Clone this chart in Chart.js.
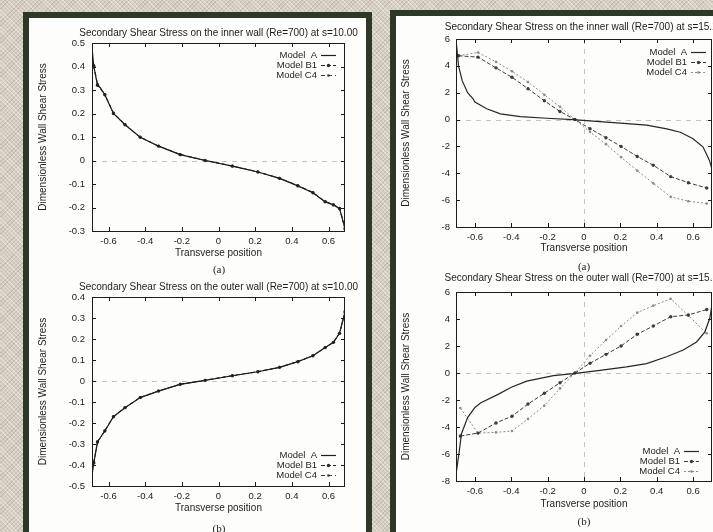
<!DOCTYPE html>
<html>
<head>
<meta charset="utf-8">
<script src="https://cdn.jsdelivr.net/npm/chart.js@4.4.1/dist/chart.umd.min.js"></script>
<style>
  html, body { margin: 0; padding: 0; }
  body {
    width: 713px; height: 532px; overflow: hidden; position: relative;
    background-color: #d5cec1;
    background-image:
      repeating-linear-gradient(45deg, rgba(255,255,255,0.35) 0 1px, transparent 1px 3px),
      repeating-linear-gradient(-45deg, rgba(110,100,80,0.18) 0 1px, transparent 1px 3px);
  }
  .panel { position: absolute; background: #fdfdfb; border: 6px solid #2d3826; }
  canvas { position: absolute; }
  .cap { position: absolute; font: 11px "Liberation Serif", serif; color: #222; transform: translateX(-50%); }
</style>
</head>
<body>
<div class="panel" style="left:23px;top:12px;width:337px;height:600px"></div>
<div class="panel" style="left:390px;top:10px;width:400px;height:600px"></div>

<canvas id="c1" width="340" height="240" style="left:30px;top:20px"></canvas>
<canvas id="c3" width="340" height="240" style="left:30px;top:274px"></canvas>
<canvas id="c2" width="340" height="240" style="left:397px;top:14px"></canvas>
<canvas id="c4" width="340" height="245" style="left:397px;top:266px"></canvas>

<div class="cap" style="left:219px;top:263px">(a)</div>
<div class="cap" style="left:219px;top:522px">(b)</div>
<div class="cap" style="left:584px;top:260px">(a)</div>
<div class="cap" style="left:584px;top:515px">(b)</div>

<script>
const modelNames = ["Model  A", "Model B1", "Model C4"];
const xTickVals = [-0.6, -0.4, -0.2, 0, 0.2, 0.4, 0.6];
const yTicksInner10 = [-0.3, -0.2, -0.1, 0, 0.1, 0.2, 0.3, 0.4, 0.5];
const yTicksOuter10 = [-0.5, -0.4, -0.3, -0.2, -0.1, 0, 0.1, 0.2, 0.3, 0.4];
const yTicks15 = [-8, -6, -4, -2, 0, 2, 4, 6];

// inner wall, s=10.00
const in10AX = [-0.69, -0.68, -0.66, -0.645, -0.62, -0.573, -0.51, -0.427, -0.327, -0.209, -0.073, 0.076, 0.215, 0.333, 0.433, 0.515, 0.582, 0.627, 0.66, 0.69];
const in10AY = [0.48, 0.40, 0.32, 0.31, 0.28, 0.20, 0.152, 0.099, 0.061, 0.025, 0.0, -0.024, -0.049, -0.076, -0.108, -0.137, -0.176, -0.189, -0.204, -0.29];
const in10PtX = [-0.68, -0.66, -0.62, -0.573, -0.51, -0.427, -0.327, -0.209, -0.073, 0.076, 0.215, 0.333, 0.433, 0.515, 0.582, 0.627, 0.66, 0.69];
const in10B1 = [0.40, 0.32, 0.28, 0.20, 0.152, 0.099, 0.061, 0.025, 0.0, -0.024, -0.049, -0.076, -0.108, -0.137, -0.176, -0.189, -0.204, -0.29];
const in10C4 = [0.405, 0.325, 0.282, 0.203, 0.154, 0.10, 0.062, 0.026, 0.001, -0.023, -0.048, -0.075, -0.106, -0.135, -0.174, -0.187, -0.202, -0.285];

// outer wall, s=10.00
const out10AX = [-0.69, -0.68, -0.66, -0.62, -0.573, -0.51, -0.427, -0.327, -0.209, -0.073, 0.076, 0.215, 0.333, 0.433, 0.515, 0.582, 0.627, 0.66, 0.69];
const out10AY = [-0.45, -0.39, -0.29, -0.238, -0.17, -0.127, -0.079, -0.048, -0.016, 0.003, 0.025, 0.044, 0.065, 0.092, 0.12, 0.159, 0.184, 0.227, 0.33];
const out10PtX = [-0.68, -0.66, -0.62, -0.573, -0.51, -0.427, -0.327, -0.209, -0.073, 0.076, 0.215, 0.333, 0.433, 0.515, 0.582, 0.627, 0.66, 0.69];
const out10B1 = [-0.39, -0.29, -0.238, -0.17, -0.127, -0.079, -0.048, -0.016, 0.003, 0.025, 0.044, 0.065, 0.092, 0.12, 0.159, 0.184, 0.227, 0.33];
const out10C4 = [-0.385, -0.288, -0.236, -0.168, -0.126, -0.078, -0.047, -0.015, 0.004, 0.026, 0.045, 0.066, 0.093, 0.121, 0.16, 0.185, 0.225, 0.325];

// inner wall, s=15.20
const in15AX = [-0.703, -0.69, -0.67, -0.64, -0.61, -0.6, -0.535, -0.46, -0.35, -0.205, -0.06, 0.05, 0.2, 0.345, 0.455, 0.53, 0.6, 0.655, 0.69, 0.703];
const in15AY = [5.8, 4.0, 2.9, 2.0, 1.55, 1.3, 0.8, 0.42, 0.22, 0.1, 0.0, -0.12, -0.27, -0.42, -0.69, -0.94, -1.43, -2.05, -3.04, -3.65];
const in15PtX = [-0.69, -0.583, -0.484, -0.396, -0.308, -0.218, -0.132, -0.05, 0.033, 0.121, 0.204, 0.293, 0.381, 0.477, 0.574, 0.675];
const in15B1 = [4.75, 4.65, 3.85, 3.15, 2.3, 1.4, 0.6, 0.0, -0.68, -1.35, -2.0, -2.75, -3.4, -4.25, -4.7, -5.1];
const in15C4 = [4.75, 5.0, 4.3, 3.6, 2.8, 1.85, 0.95, 0.0, -0.92, -1.83, -2.8, -3.8, -4.75, -5.76, -6.08, -6.25];

// outer wall, s=15.20
const out15AX = [-0.703, -0.687, -0.674, -0.64, -0.6, -0.567, -0.475, -0.4, -0.315, -0.168, -0.059, 0.088, 0.234, 0.344, 0.454, 0.546, 0.619, 0.665, 0.692, 0.703];
const out15AY = [-7.4, -5.9, -4.5, -3.3, -2.55, -2.2, -1.6, -1.05, -0.6, -0.2, -0.05, 0.2, 0.45, 0.7, 1.2, 1.7, 2.3, 3.05, 4.05, 5.0];
const out15PtX = [-0.68, -0.583, -0.484, -0.396, -0.308, -0.218, -0.132, -0.05, 0.033, 0.121, 0.204, 0.293, 0.381, 0.477, 0.574, 0.675];
const out15B1 = [-4.67, -4.45, -3.7, -3.2, -2.3, -1.5, -0.72, 0.0, 0.72, 1.38, 2.0, 2.87, 3.48, 4.17, 4.3, 4.7];
const out15C4 = [-2.6, -4.45, -4.4, -4.3, -3.4, -2.42, -1.14, 0.0, 1.28, 2.44, 3.48, 4.47, 4.99, 5.5, 4.25, 2.94];

const ink = "#1c1c1c";
const fam = "'Liberation Sans', Arial, sans-serif";
const tickFont = { family: fam, size: 9.5 };

function fmt(v) { return v === 0 ? "0" : String(+v.toFixed(1)); }
function pairs(xs, ys) { return xs.map((x, i) => ({ x: x, y: ys[i] })); }

// gnuplot-like frame, inward ticks, zero axes, title and legend
const gnuFrame = {
  id: "gnuFrame",
  beforeDatasetsDraw(chart, args, opts) {
    const { ctx, chartArea: a } = chart;
    const x = chart.scales.x, y = chart.scales.y;
    ctx.save();
    ctx.strokeStyle = "#c4c4c4"; ctx.lineWidth = 1; ctx.setLineDash([5, 5]);
    ctx.beginPath();
    const y0 = Math.round(y.getPixelForValue(0)) + 0.5;
    ctx.moveTo(a.left, y0); ctx.lineTo(a.right, y0);
    if (opts.vZero) {
      const x0 = Math.round(x.getPixelForValue(0)) + 0.5;
      ctx.moveTo(x0, a.top); ctx.lineTo(x0, a.bottom);
    }
    ctx.stroke();
    ctx.restore();
  },
  afterDatasetsDraw(chart, args, opts) {
    const { ctx, chartArea: a } = chart;
    const x = chart.scales.x, y = chart.scales.y;
    ctx.save();
    ctx.strokeStyle = ink; ctx.lineWidth = 1;
    ctx.strokeRect(a.left + 0.5, a.top + 0.5, a.right - a.left - 1, a.bottom - a.top);
    ctx.beginPath();
    x.ticks.forEach(t => {
      const px = Math.round(x.getPixelForValue(t.value)) + 0.5;
      ctx.moveTo(px, a.bottom); ctx.lineTo(px, a.bottom - 4);
      ctx.moveTo(px, a.top); ctx.lineTo(px, a.top + 4);
    });
    y.ticks.forEach(t => {
      const py = Math.round(y.getPixelForValue(t.value)) + 0.5;
      ctx.moveTo(a.left, py); ctx.lineTo(a.left + 4, py);
      ctx.moveTo(a.right, py); ctx.lineTo(a.right - 4, py);
    });
    ctx.stroke();

    ctx.fillStyle = ink;
    ctx.font = "10px " + fam;
    ctx.textAlign = "center"; ctx.textBaseline = "middle";
    ctx.fillText(opts.title, (a.left + a.right) / 2, a.top - opts.titleGap);

    ctx.font = "9.5px " + fam;
    chart.data.datasets.forEach((ds, i) => {
      const ty = opts.legendTop ? a.top + opts.legendFirst + i * 10 : a.bottom - opts.legendFirst - (2 - i) * 10;
      const tx = a.right - opts.legendInset;
      ctx.fillStyle = ink; ctx.textAlign = "right";
      ctx.fillText(ds.label, tx, ty);
      ctx.strokeStyle = ds.borderColor; ctx.lineWidth = ds.borderWidth;
      ctx.setLineDash(ds.borderDash || []);
      ctx.beginPath(); ctx.moveTo(tx + 4, ty + 0.5); ctx.lineTo(tx + 4 + opts.legendLen, ty + 0.5); ctx.stroke();
      ctx.setLineDash([]);
      if (ds.pointRadius > 0) {
        ctx.fillStyle = ds.pointBackgroundColor;
        ctx.beginPath(); ctx.arc(tx + 4 + opts.legendLen / 2, ty + 0.5, ds.pointRadius, 0, Math.PI * 2); ctx.fill();
      }
    });
    ctx.restore();
  }
};

function makeChart(id, o) {
  return new Chart(document.getElementById(id), {
    type: "scatter",
    data: {
      datasets: [
        { label: modelNames[0], data: pairs(o.ax, o.ay), showLine: true, borderColor: o.colA, borderWidth: 1.2, pointRadius: 0 },
        { label: modelNames[1], data: pairs(o.px, o.b1), showLine: true, borderColor: o.colB, borderWidth: 1, borderDash: [4, 2],
          pointRadius: 1.7, pointBackgroundColor: o.colB, pointBorderWidth: 0 },
        { label: modelNames[2], data: pairs(o.px, o.c4), showLine: true, borderColor: o.colC, borderWidth: 1, borderDash: o.dashC,
          pointRadius: 1.3, pointBackgroundColor: o.colC, pointBorderWidth: 0 }
      ]
    },
    options: {
      responsive: false,
      animation: false,
      layout: { padding: o.pad },
      scales: {
        x: {
          type: "linear", min: -o.xr, max: o.xr,
          afterBuildTicks: s => { s.ticks = xTickVals.map(v => ({ value: v })); },
          afterFit: s => { s.height = o.xh; s.paddingLeft = 0; s.paddingRight = 0; },
          grid: { display: false, drawTicks: false }, border: { display: false },
          ticks: { font: tickFont, color: ink, padding: 5, maxRotation: 0, autoSkip: false, callback: fmt },
          title: { display: true, text: "Transverse position", font: { family: fam, size: 10 }, color: ink, padding: { top: 0, bottom: o.xtp } }
        },
        y: {
          type: "linear", min: o.yt[0], max: o.yt[o.yt.length - 1],
          afterBuildTicks: s => { s.ticks = o.yt.map(v => ({ value: v })); },
          afterFit: s => { s.width = o.yw; s.paddingTop = 0; s.paddingBottom = 0; },
          grid: { display: false, drawTicks: false }, border: { display: false },
          ticks: { font: tickFont, color: ink, padding: o.ylp, autoSkip: false, callback: fmt },
          title: { display: true, text: "Dimensionless Wall Shear Stress", font: { family: fam, size: 10 }, color: ink, padding: { top: o.ytp, bottom: 0 } }
        }
      },
      plugins: {
        legend: { display: false },
        tooltip: { enabled: false },
        gnuFrame: {
          title: o.title, titleGap: o.titleGap, vZero: o.vZero,
          legendTop: o.legendTop, legendFirst: o.legendFirst, legendInset: o.legendInset, legendLen: 15
        }
      }
    },
    plugins: [gnuFrame]
  });
}

makeChart("c1", {
  title: "Secondary Shear Stress on the inner wall (Re=700) at s=10.00",
  ax: in10AX, ay: in10AY, px: in10PtX, b1: in10B1, c4: in10C4, yt: yTicksInner10, xr: 0.69,
  colA: "#1e1e1e", colB: "#2a2a2a", colC: "#3a3a3a", dashC: [4, 3],
  pad: { left: 4, top: 23, right: 25, bottom: 0 }, yw: 58, xh: 29, xtp: 1, ytp: 3, ylp: 7,
  titleGap: 10, vZero: false, legendTop: true, legendFirst: 12, legendInset: 28
});
makeChart("c3", {
  title: "Secondary Shear Stress on the outer wall (Re=700) at s=10.00",
  ax: out10AX, ay: out10AY, px: out10PtX, b1: out10B1, c4: out10C4, yt: yTicksOuter10, xr: 0.69,
  colA: "#1e1e1e", colB: "#2a2a2a", colC: "#3a3a3a", dashC: [4, 3],
  pad: { left: 4, top: 23, right: 25, bottom: 0 }, yw: 58, xh: 28, xtp: 0, ytp: 3, ylp: 7,
  titleGap: 10, vZero: false, legendTop: false, legendFirst: 11, legendInset: 28
});
makeChart("c2", {
  title: "Secondary Shear Stress on the inner wall (Re=700) at s=15.20",
  ax: in15AX, ay: in15AY, px: in15PtX, b1: in15B1, c4: in15C4, yt: yTicks15, xr: 0.704,
  colA: "#262626", colB: "#3c3c3c", colC: "#8a8a8a", dashC: [2, 2],
  pad: { left: 0, top: 25, right: 25, bottom: 0 }, yw: 59, xh: 27, xtp: 0, ytp: 3, ylp: 6,
  titleGap: 12, vZero: true, legendTop: true, legendFirst: 13, legendInset: 25
});
makeChart("c4", {
  title: "Secondary Shear Stress on the outer wall (Re=700) at s=15.20",
  ax: out15AX, ay: out15AY, px: out15PtX, b1: out15B1, c4: out15C4, yt: yTicks15, xr: 0.704,
  colA: "#262626", colB: "#3c3c3c", colC: "#8a8a8a", dashC: [2, 2],
  pad: { left: 0, top: 26, right: 25, bottom: 0 }, yw: 59, xh: 30, xtp: 1, ytp: 3, ylp: 6,
  titleGap: 14, vZero: true, legendTop: false, legendFirst: 10, legendInset: 32
});
</script>
</body>
</html>
